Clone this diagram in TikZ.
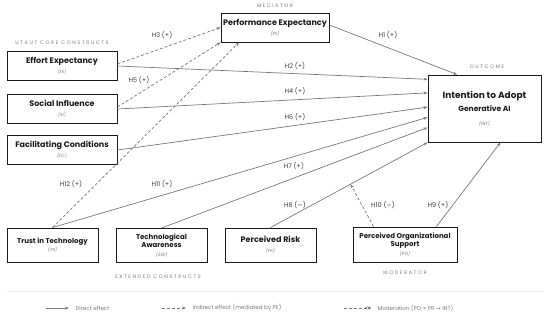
\documentclass[tikz,border=0pt]{standalone}
\usepackage{fontspec}
\setmainfont{Poppins}
\newfontfamily\symfont{DejaVu Sans}
\usetikzlibrary{positioning,arrows.meta,calc,shadows}
\definecolor{LineGray}{HTML}{787878}
\definecolor{LabelGray}{HTML}{7A7A7A}
\definecolor{TextDark}{HTML}{1A1A1A}
\definecolor{RuleGray}{HTML}{E3E6EB}
\newcommand{\abbr}[1]{{\fontsize{4.4}{5}\selectfont\mdseries\itshape\color{LabelGray}(#1)}}

\begin{document}
\begin{tikzpicture}[x=1pt,y=-1pt,
    every node/.style={font=\fontsize{6.5}{8}\selectfont, text=TextDark},
    construct/.style={draw=TextDark, line width=0.9pt, fill=white, align=center, inner sep=1pt,
      drop shadow={shadow xshift=0.7pt, shadow yshift=-0.7pt, opacity=0.3}},
    bigbox/.style={construct, font=\bfseries\fontsize{8}{10}\selectfont},
    smallbox/.style={construct, font=\bfseries\fontsize{7}{8.5}\selectfont},
    grouplabel/.style={font=\fontsize{5}{6}\selectfont\addfontfeature{LetterSpace=32}, text=LabelGray},
    hyp/.style={font=\fontsize{6.5}{8}\selectfont, text=TextDark!85},
    direct/.style={draw=LineGray, line width=0.7pt, -{Stealth[length=4pt,width=3pt]}},
    indirect/.style={direct, dash pattern=on 3pt off 2pt},
    legendtext/.style={font=\fontsize{5.6}{7}\selectfont, text=LabelGray, anchor=west}]
      \useasboundingbox (0,0) rectangle (550,317);
      % constructs
      \node[bigbox, minimum width=108pt, minimum height=29pt] (pe) at (275,27.5) {Performance Expectancy\\\abbr{PE}};
      \node[bigbox, minimum width=110pt, minimum height=29pt] (ee) at (62,66) {Effort Expectancy\\\abbr{EE}};
      \node[bigbox, minimum width=110pt, minimum height=29pt] (si) at (62,109) {Social Influence\\\abbr{SI}};
      \node[bigbox, minimum width=110pt, minimum height=29pt] (fc) at (62,150) {Facilitating Conditions\\\abbr{FC}};
      \node[construct, font=\bfseries\fontsize{7.5}{13}\selectfont, minimum width=113pt, minimum height=67pt] (int) at (484.5,108.5)
        {{\fontsize{9}{13}\selectfont Intention to Adopt}\\Generative AI\\[1pt]\abbr{INT}};
      \node[smallbox, minimum width=91pt, minimum height=34pt] (tr) at (52.5,245) {Trust in Technology\\\abbr{TR}};
      \node[smallbox, minimum width=91pt, minimum height=34pt] (aw) at (161.5,245.5) {Technological\\Awareness\\\abbr{AW}};
      \node[bigbox, minimum width=91pt, minimum height=34pt] (pr) at (270.5,245) {Perceived Risk\\\abbr{PR}};
      \node[smallbox, minimum width=104pt, minimum height=35pt] (po) at (405,244.5) {Perceived Organizational\\Support\\\abbr{PO}};
      % group labels
      \node[grouplabel] (medLbl) at (275,6) {MEDIATOR};
      \node[grouplabel] (coreLbl) at (62,43) {UTAUT CORE CONSTRUCTS};
      \node[grouplabel] (outLbl) at (487,67) {OUTCOME};
      \node[grouplabel] (extLbl) at (158,277) {EXTENDED CONSTRUCTS};
      \node[grouplabel] (modLbl) at (405,273) {MODERATOR};
      % entry points on INT and PE
      \coordinate (in1) at ($(int.north west)!0.07!(int.south west)$);
      \coordinate (in2) at ($(int.north west)!0.27!(int.south west)$);
      \coordinate (in3) at ($(int.north west)!0.48!(int.south west)$);
      \coordinate (in4) at ($(int.north west)!0.63!(int.south west)$);
      \coordinate (in5) at ($(int.north west)!0.78!(int.south west)$);
      \coordinate (inTop) at ($(int.north west)!0.26!(int.north east)$);
      \coordinate (inBot) at ($(int.south west)!0.64!(int.south east)$);
      \coordinate (peIn) at ($(pe.south west)!0.17!(pe.south east)$);
      \coordinate (poA) at ($(po.north west)!0.2!(po.north east)$);
      \coordinate (poB) at ($(po.north west)!0.8!(po.north east)$);
      \coordinate (mod) at ($(pr.north)!0.51!(int.south west)$);
      % direct effects
      \draw[direct] ([yshift=2.5pt]pe.east) -- (inTop);
      \draw[direct] (ee.east) -- (in1);
      \draw[direct] (si.east) -- (in2);
      \draw[direct] (fc.east) -- (in3);
      \draw[direct] (tr.north) -- (in4);
      \draw[direct] (aw.north) -- (in5);
      \draw[direct] (pr.north) -- (int.south west);
      \draw[direct] (poB) -- (inBot);
      % indirect effects and moderation
      \draw[indirect] ([yshift=2pt]ee.east) -- (pe.west);
      \draw[indirect] ([yshift=2pt]si.east) -- (pe.south west);
      \draw[indirect] (tr.north) -- (peIn);
      \draw[indirect] (poA) -- (mod);
      % hypotheses
      \node[hyp] (h1) at (388,35) {H1 (+)};
      \node[hyp] (h2) at (295,66.5) {H2 (+)};
      \node[hyp] (h3) at (162,35) {H3 (+)};
      \node[hyp] (h4) at (295,91.5) {H4 (+)};
      \node[hyp] (h5) at (139,80) {H5 (+)};
      \node[hyp] (h6) at (295,117.5) {H6 (+)};
      \node[hyp] (h7) at (294,166.5) {H7 (+)};
      \node[hyp] (h8) at (295,205.5) {H8 ({\symfont −})};
      \node[hyp] (h9) at (438,205.5) {H9 (+)};
      \node[hyp] (h10) at (383,205.5) {H10 ({\symfont −})};
      \node[hyp] (h11) at (162,184) {H11 (+)};
      \node[hyp] (h12) at (71,184) {H12 (+)};
      % legend
      \draw[RuleGray, line width=0.8pt] (7,291) -- (543,291);
      \coordinate (lgDa) at (46,308);
      \coordinate (lgDb) at (69,308);
      \coordinate (lgIa) at (162,308);
      \coordinate (lgIb) at (186,308);
      \coordinate (lgMa) at (344,308);
      \coordinate (lgMb) at (371,308);
      \draw[direct] (lgDa) -- (lgDb);
      \draw[indirect] (lgIa) -- (lgIb);
      \draw[draw=LineGray, line width=0.7pt, dash pattern=on 3pt off 2pt, -{Stealth[length=3pt,width=3pt,reversed]Diamond[length=3.5pt,width=3pt]}] (lgMa) -- (lgMb);
      \node[legendtext] (lgD) at (72,308) {Direct effect};
      \node[legendtext] (lgI) at (189,308) {Indirect effect (mediated by PE)};
      \node[legendtext] (lgM) at (374,308) {Moderation (PO × PR {\symfont →} INT)};
    \end{tikzpicture}
\end{document}
